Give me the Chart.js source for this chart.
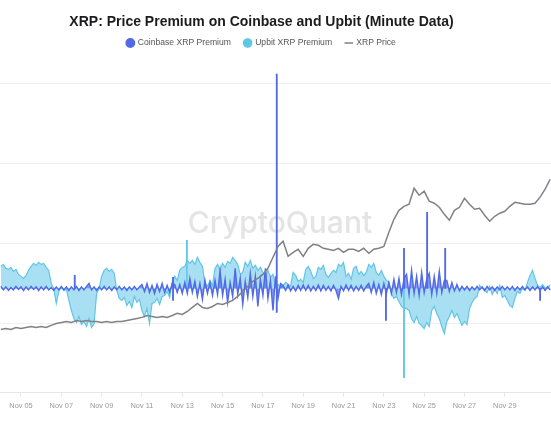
<!DOCTYPE html>
<html>
<head>
<meta charset="utf-8">
<script src="https://cdn.jsdelivr.net/npm/chart.js@4.4.1/dist/chart.umd.min.js"></script>
<style>
  body { margin: 0; background: #fff; }
  #wrap { width: 551px; height: 431px; position: relative; }
</style>
</head>
<body>
<div id="wrap"><canvas id="chart"></canvas></div>
<script>
// x values are hours since Nov 04 00:00
const premiumStep = 3;
const priceStep = 6;

const tickHours = [24, 72, 120, 168, 216, 264, 312, 360, 408, 456, 504, 552, 600];
const tickLabels = ['Nov 05', 'Nov 07', 'Nov 09', 'Nov 11', 'Nov 13', 'Nov 15', 'Nov 17',
  'Nov 19', 'Nov 21', 'Nov 23', 'Nov 25', 'Nov 27', 'Nov 29'];
const gridPrices = [0.5, 1.0, 1.5, 2.0];

// premium, % (one value every 3 hours)
const coinbasePremium = [
  0.04,-0.03,0.03,-0.04,0.02,-0.03,0.04,-0.02,0.03,-0.04,
  0.03,-0.03,0.04,-0.02,0.03,-0.04,0.03,-0.03,0.04,-0.03,
  0.02,-0.04,0.03,-0.03,0.04,-0.03,0.03,-0.04,0.03,-0.03,
  0.04,-0.04,0.03,-0.03,0.04,0.10,-0.03,0.03,-0.04,0.03,
  -0.03,0.04,-0.03,0.03,-0.04,0.03,-0.03,0.04,-0.03,0.03,
  -0.04,0.03,-0.03,0.04,-0.03,0.03,
  0.08,-0.06,0.10,-0.08,0.06,-0.10,0.08,-0.06,0.10,-0.08,0.06,-0.08,0.10,0.08,-0.08,0.08,-0.10,
  0.12,-0.10,0.20,-0.08,0.14,-0.16,0.10,-0.22,0.16,-0.10,0.12,-0.14,
  0.16,-0.12,0.36,-0.14,0.18,-0.28,0.12,-0.16,0.40,-0.12,0.20,-0.32,0.14,-0.18,0.30,
  -0.16,0.24,-0.36,0.18,-0.14,0.40,-0.20,0.16,-0.44,
  0.24,-0.20,0.10,
  0.06,-0.04,0.07,-0.05,0.04,-0.05,0.06,-0.04,0.07,-0.04,
  0.06,-0.05,0.04,-0.04,0.07,-0.05,0.06,-0.04,0.04,-0.05,
  0.06,-0.04,-0.20,0.04,-0.05,0.07,-0.04,0.06,-0.05,0.04,
  -0.04,0.06,-0.05,0.04,
  0.10,-0.08,0.12,-0.10,0.08,-0.12,0.10,
  -0.10,
  0.12,-0.10,0.18,-0.08,0.20,
  -0.12,0.20,
  0.28,-0.12,0.36,-0.10,0.24,-0.14,0.32,-0.08,
  0.18,
  0.30,-0.12,0.24,-0.10,0.34,-0.08,
  0.16,
  0.16,-0.06,0.12,-0.05,0.08,-0.05,
  0.04,-0.03,0.04,-0.04,0.03,-0.03,0.04,-0.03,0.03,-0.04,
  0.04,-0.03,0.03,-0.04,0.03,-0.03,0.04,-0.03,0.03,-0.03,
  0.04,-0.04,0.03,-0.03,0.04,-0.03,0.03,-0.04,0.03,-0.03,
  0.04,-0.04,0.03,-0.04,0.03,-0.03
];

// single-minute spikes: hour, [low, high] in %
const coinbaseSpikeHours = [88, 205, 328.5, 458.5, 480, 507.5, 529, 642];
const coinbaseSpikes = [[0, 0.26], [-0.24, 0.22], [-0.48, 4.28], [-0.64, 0], [0, 0.80],
  [0, 1.52], [0, 0.80], [-0.24, 0]];

const upbitPremium = [
  0.44,0.48,0.40,0.38,0.42,0.34,0.38,0.28,0.24,0.20,
  0.26,0.36,0.44,0.50,0.46,0.52,0.48,0.50,0.42,0.36,
  0.10,0.00,-0.30,-0.06,0.02,-0.04,-0.02,-0.24,-0.44,-0.60,
  -0.68,-0.56,-0.72,-0.66,-0.76,-0.60,-0.78,-0.70,-0.10,0.00,
  0.24,0.36,0.40,0.34,0.38,0.30,-0.04,-0.20,-0.24,-0.18,
  -0.34,-0.26,-0.38,-0.16,-0.28,-0.22,-0.44,-0.56,-0.40,-0.70,
  -0.30,-0.28,-0.20,-0.32,-0.16,-0.14,-0.06,-0.18,0.12,0.24,
  0.16,0.36,0.42,0.44,0.56,0.50,0.56,0.48,0.62,0.52,
  0.44,0.10,0.04,0.16,0.06,0.40,0.48,0.36,0.50,0.42,
  0.54,0.50,0.62,0.56,0.48,0.28,0.32,0.52,0.44,0.56,
  0.40,0.46,0.36,0.42,0.32,0.24,0.36,0.22,0.28,0.04,
  0.08,0.02,0.06,0.12,0.08,0.04,0.32,0.26,0.14,0.18,
  0.12,0.38,0.44,0.34,0.20,0.24,0.42,0.38,0.46,0.28,
  0.22,0.30,0.36,0.32,0.48,0.44,0.52,0.24,0.30,0.18,
  0.40,0.44,0.28,0.34,0.26,0.32,0.48,0.42,0.50,0.32,
  0.26,0.36,0.24,0.16,0.12,-0.10,-0.20,-0.16,-0.26,-0.36,
  -0.40,-0.40,-0.44,-0.60,-0.68,-0.56,-0.70,-0.74,-0.80,-0.68,
  -0.76,-0.44,-0.36,-0.50,-0.60,-0.76,-0.90,-0.66,-0.56,-0.44,
  -0.58,-0.50,-0.62,-0.74,-0.66,-0.72,-0.40,-0.28,-0.20,-0.16,
  0.06,0.00,-0.04,-0.08,0.04,-0.12,-0.02,-0.10,0.06,-0.18,
  -0.14,-0.24,-0.34,-0.38,-0.20,-0.06,-0.10,0.00,-0.04,0.12,
  0.26,0.36,0.20,0.06,0.02,0.08,0.00,0.04,0.06
];

const upbitSpikeHours = [221.5, 480];
const upbitSpikes = [[0, 0.96], [-1.78, 0]];

// XRP price, one value every 6 hours
const xrpPrice = [
  0.463,0.469,0.463,0.475,0.469,0.475,0.481,0.475,0.481,0.475,
  0.488,0.500,0.506,0.513,0.506,0.519,0.513,0.519,0.513,0.513,
  0.506,0.513,0.506,0.513,0.513,0.519,0.525,0.531,0.538,0.550,
  0.544,0.538,0.544,0.538,0.550,0.563,0.556,0.575,0.600,0.625,
  0.600,0.594,0.606,0.625,0.619,0.631,0.644,0.669,0.700,0.731,
  0.763,0.781,0.806,0.844,0.913,0.981,1.013,0.919,0.944,0.963,
  0.919,0.969,0.994,0.988,0.969,0.963,0.956,0.969,0.944,0.963,
  0.963,0.950,0.969,0.938,0.963,0.969,0.981,1.069,1.150,1.206,
  1.231,1.244,1.344,1.300,1.325,1.263,1.250,1.225,1.181,1.144,
  1.206,1.225,1.281,1.244,1.213,1.219,1.175,1.138,1.169,1.188,
  1.200,1.231,1.256,1.250,1.244,1.244,1.250,1.288,1.338,1.400
];

const colors = ['rgb(80,106,232)', 'rgb(96,198,228)', 'rgb(128,128,136)'];
const font = 'Liberation Sans';

const watermark = {
  id: 'watermark',
  beforeDatasetsDraw: (chart) => {
    const { ctx } = chart;
    ctx.save();
    ctx.font = '500 30px Inter, sans-serif';
    ctx.fillStyle = 'rgba(205,205,212,0.55)';
    ctx.textAlign = 'center';
    ctx.textBaseline = 'middle';
    ctx.fillText('CryptoQuant', 280, 224);
    ctx.restore();
  }
};

// the header of the original sits a bit left of the canvas centre
const shiftHeader = {
  id: 'shiftHeader',
  afterLayout: (chart) => {
    [chart.titleBlock, chart.legend].forEach(b => { b.left -= 14; b.right -= 14; });
  }
};

const chart = new Chart('chart', {
  type: 'line',
  data: {
    datasets: [
      {
        label: 'Coinbase XRP Premium',
        data: coinbasePremium.map((v, i) => ({ x: i * premiumStep, y: v })),
        borderColor: colors[0],
        backgroundColor: 'rgba(80,106,232,0.7)',
        borderWidth: 1.4,
        fill: 'origin',
        pointRadius: 0,
        pointStyle: 'circle',
        yAxisID: 'y',
        order: 0
      },
      {
        label: 'Upbit XRP Premium',
        data: upbitPremium.map((v, i) => ({ x: i * premiumStep, y: v })),
        borderColor: colors[1],
        backgroundColor: 'rgba(116,204,234,0.62)',
        borderWidth: 1.2,
        fill: 'origin',
        pointRadius: 0,
        pointStyle: 'circle',
        yAxisID: 'y',
        order: 1
      },
      {
        label: 'XRP Price',
        data: xrpPrice.map((v, i) => ({ x: i * priceStep, y: v })),
        borderColor: colors[2],
        backgroundColor: colors[2],
        borderWidth: 1.5,
        fill: false,
        pointRadius: 0,
        pointStyle: 'line',
        yAxisID: 'y1',
        order: -1
      },
      {
        type: 'bar',
        label: '',
        data: coinbaseSpikes.map((v, i) => ({ x: coinbaseSpikeHours[i], y: v })),
        backgroundColor: colors[0],
        barThickness: 1.2,
        grouped: false,
        yAxisID: 'y',
        order: 0.5
      },
      {
        type: 'bar',
        label: '',
        data: upbitSpikes.map((v, i) => ({ x: upbitSpikeHours[i], y: v })),
        backgroundColor: colors[1],
        barThickness: 1.2,
        grouped: false,
        yAxisID: 'y',
        order: 1.5
      }
    ]
  },
  options: {
    responsive: true,
    maintainAspectRatio: false,
    animation: false,
    layout: { padding: { top: 0, bottom: 16.5, left: 0, right: 0 } },
    plugins: {
      title: {
        display: true,
        text: 'XRP: Price Premium on Coinbase and Upbit (Minute Data)',
        color: '#1c1c1e',
        font: { family: font, size: 14, weight: 'bold' },
        padding: { top: 13.6, bottom: -5.2 }
      },
      legend: {
        labels: {
          usePointStyle: true,
          boxHeight: 6,
          boxWidth: 6.4,
          padding: 13.5,
          color: '#555',
          font: { family: font, size: 8.6 },
          filter: (item) => item.text !== '',
          sort: (a, b) => a.datasetIndex - b.datasetIndex,
          generateLabels: (chart) => {
            const items = Chart.defaults.plugins.legend.labels.generateLabels(chart);
            items.forEach(it => {
              it.fillStyle = colors[it.datasetIndex];
              it.strokeStyle = colors[it.datasetIndex];
            });
            return items;
          }
        }
      },
      tooltip: { enabled: false }
    },
    scales: {
      x: {
        type: 'linear',
        min: -1,
        max: 655,
        offset: false,
        afterBuildTicks: (axis) => { axis.ticks = tickHours.map(v => ({ value: v })); },
        ticks: {
          color: '#999',
          font: { family: font, size: 7.4 },
          padding: 4.5,
          maxRotation: 0,
          callback: (v) => tickLabels[tickHours.indexOf(v)]
        },
        grid: { drawOnChartArea: false, offset: false, tickLength: 4, color: '#e6e6e6' },
        border: { color: '#e6e6e6' }
      },
      y: {
        position: 'left',
        min: -2.08,
        max: 4.614,
        ticks: { display: false },
        grid: { display: false, drawTicks: false },
        border: { display: false }
      },
      y1: {
        position: 'right',
        min: 0.06875,
        max: 2.1606,
        afterBuildTicks: (axis) => { axis.ticks = gridPrices.map(v => ({ value: v })); },
        ticks: { display: false },
        grid: { color: '#f0f0f0', drawTicks: false },
        border: { display: false }
      }
    }
  },
  plugins: [watermark, shiftHeader]
});
</script>
</body>
</html>
